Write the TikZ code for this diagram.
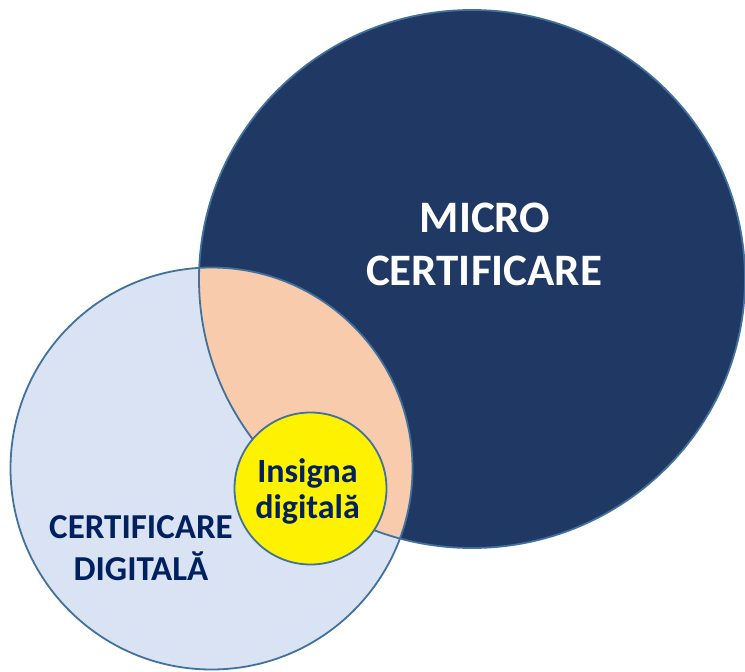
\documentclass[tikz,border=0pt]{standalone}
\usepackage{fontspec}
\setmainfont{Carlito}
\usetikzlibrary{shapes.geometric}
\definecolor{navyfill}{HTML}{203864}
\definecolor{edgeblue}{HTML}{41719C}
\definecolor{lightfill}{HTML}{DAE3F3}
\definecolor{peach}{HTML}{F8CBAD}
\definecolor{textnavy}{HTML}{002060}
\begin{document}
\begin{tikzpicture}[x=1pt,y=-1pt,
  edge/.style={draw=edgeblue, line width=1.8pt},
  bigtext/.style={font=\bfseries\fontsize{45}{53}\selectfont, text=white, anchor=base, inner sep=0},
  leftlabel/.style={font=\bfseries\fontsize{35}{42}\selectfont, text=textnavy, anchor=base, inner sep=0},
  badgetext/.style={font=\bfseries\fontsize{34}{36}\selectfont, text=textnavy, anchor=base, inner sep=0}]
\useasboundingbox (0,0) rectangle (745,672);
\coordinate (mc) at (472,279);
\coordinate (dc) at (211.5,468.5);
% filled areas
\fill[lightfill] (dc) circle [radius=201];
\fill[navyfill] (mc) ellipse [x radius=273, y radius=269];
\begin{scope}
  \clip (dc) circle [radius=201];
  \fill[peach] (mc) ellipse [x radius=273, y radius=269];
\end{scope}
% outlines as named shapes
\node[ellipse, edge, minimum width=546pt, minimum height=538pt, inner sep=0] (micro) at (mc) {};
\node[circle, edge, minimum size=402pt, inner sep=0] (digital) at (dc) {};
\node[circle, edge, fill=yellow, minimum size=152pt, inner sep=0] (badge) at (310.5,488.5) {};
% texts
\node[bigtext] (m1) at (485,232) {MICRO};
\node[bigtext] (m2) at (484,285) {CERTIFICARE};
\node[leftlabel] (d1) at (141,538) {CERTIFICARE};
\node[leftlabel] (d2) at (141,580) {DIGITALĂ};
\node[badgetext] (b1) at (307.5,482) {Insigna};
\node[badgetext] (b2) at (307.5,518) {digitală};
\end{tikzpicture}
\end{document}
